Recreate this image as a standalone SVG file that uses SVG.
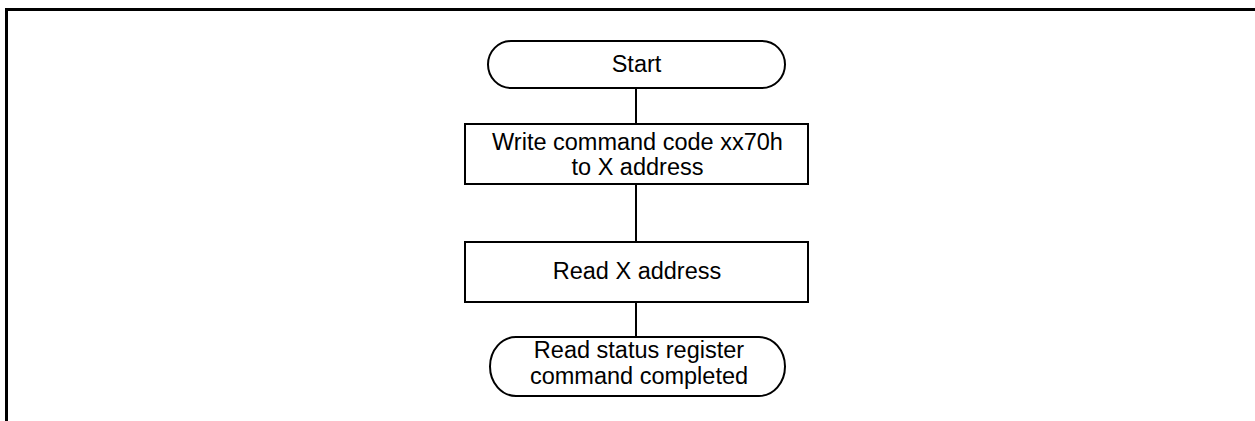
<svg xmlns="http://www.w3.org/2000/svg" width="1255" height="421" viewBox="0 0 1255 421">
<style>
.shape{fill:#fff;stroke:#000;stroke-width:2}
.conn{stroke:#000;stroke-width:2;fill:none}
.frame{stroke:#000;stroke-width:3;fill:none}
text{font-family:"Liberation Sans",Arial,sans-serif;font-size:23.5px;fill:#000;text-anchor:middle}
</style>
<rect width="1255" height="421" fill="#fff"/>
<path class="frame" d="M6.5,421 V9.5 H1255"/>
<g id="connectors">
<line class="conn" x1="636" y1="88" x2="636" y2="124"/>
<line class="conn" x1="636" y1="184" x2="636" y2="242"/>
<line class="conn" x1="636" y1="302" x2="636" y2="337"/>
</g>
<g id="start">
<rect class="shape" x="488" y="41" width="297" height="47" rx="23" ry="23.5"/>
<text x="636.5" y="72">Start</text>
</g>
<g id="write">
<rect class="shape" x="465" y="124" width="343" height="60"/>
<text x="637.5" y="150">Write command code xx70h</text>
<text x="637.5" y="175">to X address</text>
</g>
<g id="read">
<rect class="shape" x="465" y="242" width="343" height="60"/>
<text x="637" y="279">Read X address</text>
</g>
<g id="end">
<rect class="shape" x="490" y="337" width="295" height="59" rx="26" ry="29.5"/>
<text x="639" y="358">Read status register</text>
<text x="639" y="384">command completed</text>
</g>
</svg>
